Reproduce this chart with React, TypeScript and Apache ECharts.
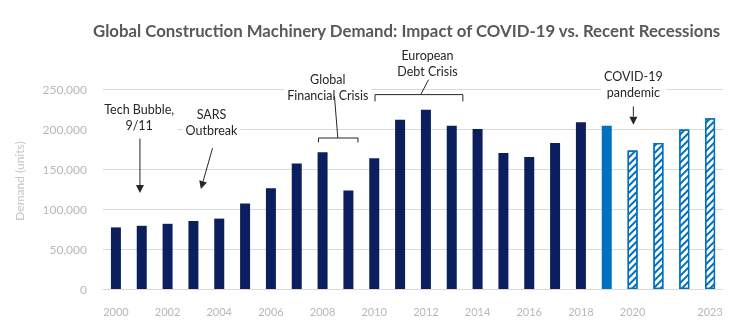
import React, { useEffect, useRef } from 'react';
import * as echarts from 'echarts';

// ---- Data ----
const years = [
  '2000', '2001', '2002', '2003', '2004', '2005', '2006', '2007', '2008', '2009',
  '2010', '2011', '2012', '2013', '2014', '2015', '2016', '2017', '2018', '2019',
  '2020', '2021', '2022', '2023',
];
const demand = [
  77000, 79000, 81500, 85000, 88000, 107000, 126000, 157000, 171000, 123000,
  163500, 211500, 224000, 204000, 200000, 170000, 165000, 182500, 208500, 204000,
  173000, 182500, 199500, 213500,
];
// bar kind: 'hist' actual, 'last' latest actual, 'fcst' forecast (hatched)
const barKind = [
  'hist', 'hist', 'hist', 'hist', 'hist', 'hist', 'hist', 'hist', 'hist', 'hist',
  'hist', 'hist', 'hist', 'hist', 'hist', 'hist', 'hist', 'hist', 'hist', 'last',
  'fcst', 'fcst', 'fcst', 'fcst',
];
const xTickLabels = ['2000', '2002', '2004', '2006', '2008', '2010', '2012', '2014', '2016', '2018', '2020', '2023'];
const yTicks = [0, 50000, 100000, 150000, 200000, 250000];

const TITLE = 'Global Construction Machinery Demand: Impact of COVID-19 vs. Recent Recessions';
const Y_NAME = 'Demand (units)';

// annotation anchors in data space (category index, value)
const textNotes = [
  { text: 'Tech Bubble,\n9/11', i: 0.9, v: 215000 },
  { text: 'SARS\nOutbreak', i: 3.7, v: 208000 },
  { text: 'Global\nFinancial Crisis', i: 8.2, v: 252250 },
  { text: 'European\nDebt Crisis', i: 12.06, v: 282000 },
  { text: 'COVID-19\npandemic', i: 20.03, v: 255400 },
];
const arrowNotes = [
  { i1: 0.93, v1: 188000, i2: 0.93, v2: 120000 },
  { i1: 3.74, v1: 176000, i2: 3.29, v2: 125000 },
  { i1: 20.03, v1: 228250, i2: 20.03, v2: 205400 },
];
const bracketNotes = [
  { iL: 7.84, iR: 9.37, vTop: 188750, vEnd: 183250, li1: 8.59, li2: 8.46, lv2: 241000 },
  { iL: 10.03, iR: 13.43, vTop: 243000, vEnd: 234500, li1: 11.8, li2: 12.1, lv2: 261600 },
];

const NAVY = '#0b1f5e';
const BLUE = '#0070c0';
const INK = '#262626';

export default function App() {
  const ref = useRef<HTMLDivElement>(null);
  useEffect(() => {
    if (!ref.current) return;
    const chart = echarts.init(ref.current, undefined, { renderer: 'svg' });
    const data = demand.map((v, k) => {
      const kind = barKind[k];
      if (kind === 'fcst') {
        return {
          value: v,
          itemStyle: {
            color: '#ffffff',
            borderColor: BLUE,
            borderWidth: 1.3,
            decal: {
              symbol: 'rect',
              symbolSize: 1,
              color: BLUE,
              backgroundColor: '#ffffff',
              dashArrayX: [1, 0],
              dashArrayY: [2, 3],
              rotation: -Math.PI / 4,
            },
          },
        };
      }
      return {
        value: v,
        itemStyle: { color: kind === 'last' ? BLUE : NAVY, decal: { symbol: 'none' } },
      };
    });
    chart.setOption({
      animation: false,
      aria: { enabled: true, decal: { show: true } },
      title: {
        text: TITLE,
        left: 88,
        top: 17,
        textStyle: { fontFamily: 'Lato', fontSize: 16.8, fontWeight: 'bold', color: '#595959' },
      },
      grid: { left: 103, right: 27, top: 89, bottom: 43, containLabel: false },
      xAxis: {
        type: 'category',
        data: years,
        axisLine: { lineStyle: { color: '#d9d9d9', width: 1 } },
        axisTick: { show: false },
        axisLabel: {
          interval: (idx: number, val: string) => xTickLabels.includes(val),
          color: '#b8b8b8',
          fontFamily: 'Lato',
          fontSize: 11,
          margin: 17,
        },
      },
      yAxis: {
        type: 'value',
        min: yTicks[0],
        max: yTicks[yTicks.length - 1],
        interval: yTicks[1] - yTicks[0],
        axisLine: { show: false },
        axisTick: { show: false },
        splitLine: { lineStyle: { color: '#d9d9d9', width: 1 } },
        axisLabel: {
          color: '#b8b8b8',
          fontFamily: 'Lato',
          fontSize: 12,
          margin: 16,
          formatter: (v: number) => v.toLocaleString('en-US'),
        },
      },
      series: [
        {
          type: 'bar',
          data,
          barWidth: 10,
        },
      ],
    });

    const x0 = chart.convertToPixel({ xAxisIndex: 0 }, years[0]) as number;
    const xN = chart.convertToPixel({ xAxisIndex: 0 }, years[years.length - 1]) as number;
    const band = (xN - x0) / (years.length - 1);
    const X = (i: number) => x0 + i * band;
    const Y = (v: number) => chart.convertToPixel({ yAxisIndex: 0 }, v) as number;

    const g: any[] = [];
    g.push({
      type: 'text',
      x: 19,
      y: 181,
      rotation: Math.PI / 2,
      z: 100,
      style: {
        text: Y_NAME,
        fill: '#c4c4c4',
        fontFamily: 'Lato',
        fontSize: 12,
        align: 'center',
        verticalAlign: 'middle',
      },
    });
    textNotes.forEach((n) => {
      g.push({
        type: 'text',
        x: X(n.i),
        y: Y(n.v),
        z: 100,
        style: {
          text: n.text,
          fill: INK,
          fontFamily: 'Lato',
          fontSize: 12.5,
          lineHeight: 16,
          align: 'center',
          verticalAlign: 'middle',
          backgroundColor: '#ffffff',
          padding: [0, 3],
        },
      });
    });
    arrowNotes.forEach((a) => {
      const x1 = X(a.i1), y1 = Y(a.v1), x2 = X(a.i2), y2 = Y(a.v2);
      const dx = x2 - x1, dy = y2 - y1;
      const len = Math.sqrt(dx * dx + dy * dy);
      const ux = dx / len, uy = dy / len;
      const hl = 8, hw = 4;
      const bx = x2 - ux * hl, by = y2 - uy * hl;
      g.push({
        type: 'line',
        z: 110,
        shape: { x1, y1, x2: bx, y2: by },
        style: { stroke: INK, lineWidth: 1 },
      });
      g.push({
        type: 'polygon',
        z: 110,
        shape: {
          points: [
            [x2, y2],
            [bx - uy * hw, by + ux * hw],
            [bx + uy * hw, by - ux * hw],
          ],
        },
        style: { fill: INK },
      });
    });
    bracketNotes.forEach((b) => {
      g.push({
        type: 'polyline',
        z: 110,
        shape: {
          points: [
            [X(b.iL), Y(b.vEnd)],
            [X(b.iL), Y(b.vTop)],
            [X(b.iR), Y(b.vTop)],
            [X(b.iR), Y(b.vEnd)],
          ],
        },
        style: { stroke: INK, lineWidth: 1, fill: 'none' },
      });
      g.push({
        type: 'line',
        z: 110,
        shape: { x1: X(b.li1), y1: Y(b.vTop), x2: X(b.li2), y2: Y(b.lv2) },
        style: { stroke: INK, lineWidth: 1 },
      });
    });
    chart.setOption({ graphic: g });

    return () => chart.dispose();
  }, []);
  return <div ref={ref} style={{ position: 'fixed', left: 0, top: 0, width: 750, height: 332 }} />;
}
